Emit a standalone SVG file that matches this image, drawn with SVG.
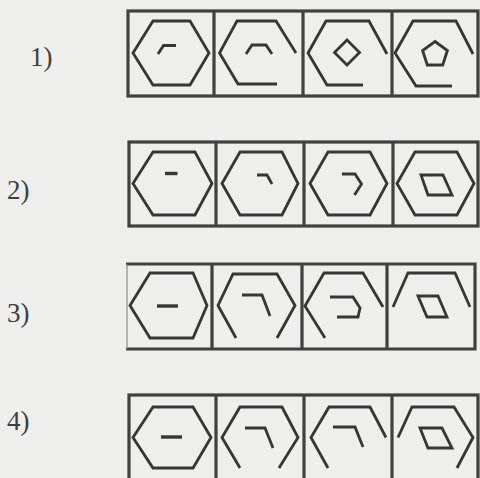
<svg xmlns="http://www.w3.org/2000/svg" width="480" height="478" viewBox="0 0 480 478">
<style>
.bg{fill:#eeeeec}
.frame{fill:none;stroke:#404040;stroke-width:3.2}
.fig{fill:none;stroke:#363636;stroke-width:2.8;stroke-linejoin:miter;stroke-linecap:butt}
.dash{fill:none;stroke:#363636;stroke-width:3.4}
.lbl{font-family:"Liberation Serif","Times New Roman",serif;font-size:27px;fill:#3e3e3e}
</style>
<rect class="bg" x="0" y="0" width="480" height="478"/>

<g id="row1">
  <text class="lbl" x="30" y="66">1)</text>
  <g id="row1-frame">
    <rect class="frame" x="128" y="11" width="350" height="85"/>
    <path class="frame" d="M214,11 V96 M303,11 V96 M392,11 V96"/>
  </g>
  <g id="r1c1">
    <polygon class="fig" points="133,53 153,21 190,21 209,53 190,85 153,85"/>
    <path class="fig" d="M158,54 L163.5,45.5 H176"/>
  </g>
  <g id="r1c2">
    <path class="fig" d="M277,84 H238 L219.5,53 L237,21 H276 L296,53"/>
    <path class="fig" d="M246,54 L252,45 H266 L272,54"/>
  </g>
  <g id="r1c3">
    <path class="fig" d="M363,85 H327 L308,53 L326,21 H369 L387,54"/>
    <polygon class="fig" points="347,40 359.5,52.5 347,65 334.5,52.5"/>
  </g>
  <g id="r1c4">
    <path class="fig" d="M452,86 H416 L395,53 L413,21 H456 L473,54"/>
    <polygon class="fig" points="435,41.5 447.4,50.5 442.7,65 427.3,65 422.6,50.5"/>
  </g>
</g>

<g id="row2">
  <text class="lbl" x="7" y="199">2)</text>
  <g id="row2-frame">
    <rect class="frame" x="129" y="142" width="349" height="84"/>
    <path class="frame" d="M216,142 V226 M304,142 V226 M393,142 V226"/>
  </g>
  <g id="r2c1">
    <polygon class="fig" points="133,183.5 153,152 195,152 212,183.5 195,215 153,215"/>
    <path class="dash" d="M165,173.5 H177.5"/>
  </g>
  <g id="r2c2">
    <polygon class="fig" points="222,183.5 240,152 282,152 298,183.5 282,215 240,215"/>
    <path class="fig" d="M257,175 H267 L272,184"/>
  </g>
  <g id="r2c3">
    <polygon class="fig" points="310,183.5 328,152 370,152 387,183.5 370,215 328,215"/>
    <path class="fig" d="M342,174 H355 L361.5,184 L354.5,195"/>
  </g>
  <g id="r2c4">
    <polygon class="fig" points="397,183.5 415,152 457,152 474,183.5 457,215 415,215"/>
    <polygon class="fig" points="421,175 443,175 452,195 428,195"/>
  </g>
</g>

<g id="row3">
  <text class="lbl" x="7" y="322">3)</text>
  <g id="row3-frame">
    <path class="frame" d="M126,264 H475 V349 H126"/>
    <path d="M127,264 V349" fill="none" stroke="#8a8a8a" stroke-width="1.2"/>
    <path class="frame" d="M212,264 V349 M302,264 V349 M387,264 V349"/>
  </g>
  <g id="r3c1">
    <polygon class="fig" points="130,305.5 150,273 193,273 207,305.5 193,338 150,338"/>
    <path class="dash" d="M157,306 H178"/>
  </g>
  <g id="r3c2">
    <path class="fig" d="M236,338 L218,305.5 L233,274 H277 L295,305.5 L277,338"/>
    <path class="fig" d="M242,295 H262 L270,316"/>
  </g>
  <g id="r3c3">
    <path class="fig" d="M325,338 L305,306 L324,273 H363 L383,307"/>
    <path class="fig" d="M330,297 H353 L360,308 L358,317 H337"/>
  </g>
  <g id="r3c4">
    <path class="fig" d="M393,307 L408,273 H455 L470,307"/>
    <polygon class="fig" points="418,296 438,296 447,317 427,317"/>
  </g>
</g>

<g id="row4">
  <text class="lbl" x="7" y="430">4)</text>
  <g id="row4-frame">
    <rect class="frame" x="129" y="395" width="349" height="86"/>
    <path class="frame" d="M216,395 V481 M304,395 V481 M392,395 V481"/>
  </g>
  <g id="r4c1">
    <polygon class="fig" points="133,437.5 153,407 193,407 211,437.5 193,468 153,468"/>
    <path class="dash" d="M161,437 H182"/>
  </g>
  <g id="r4c2">
    <path class="fig" d="M240,468 L222,437.5 L240,407 H282 L298,437.5 L279,468"/>
    <path class="fig" d="M245,428 H265 L273,448"/>
  </g>
  <g id="r4c3">
    <path class="fig" d="M328,468 L311,437.5 L329,407 H370 L386,437.5"/>
    <path class="fig" d="M333,427 H355 L363,447"/>
  </g>
  <g id="r4c4">
    <path class="fig" d="M398,437.5 L412,407 H454 L473,437.5 L457,468"/>
    <polygon class="fig" points="420,428 442,428 452,448 428,448"/>
  </g>
</g>
</svg>
